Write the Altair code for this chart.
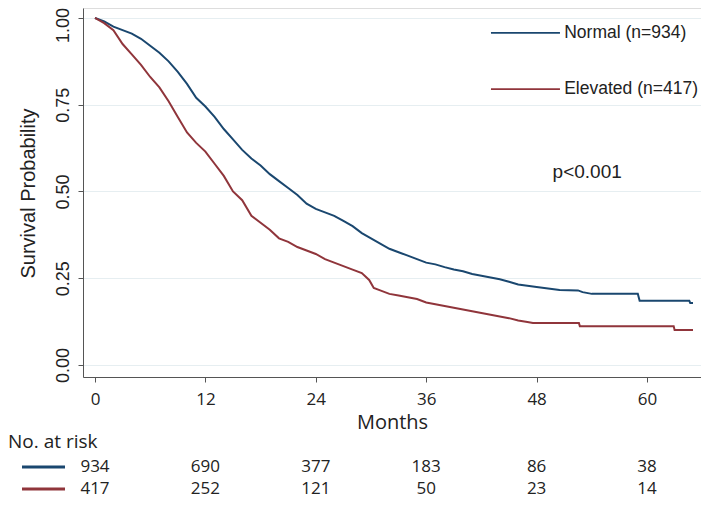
import altair as alt
import pandas as pd

# Kaplan-Meier estimates (months, survival probability)
normal_t = [0, 1, 2, 3, 4, 5, 6, 7, 8, 9, 10, 11, 12, 13, 14, 15, 16, 17, 18, 19, 20,
            21, 22, 23, 24, 25, 26, 27, 28, 29, 30, 31, 32, 33, 34, 35, 36, 37, 38, 39,
            40, 41, 42, 43, 44, 45, 46, 48, 50.5, 52.5, 53, 54, 59.0, 59.2, 64.6, 64.7, 65]
normal_s = [1.0, 0.99, 0.975, 0.965, 0.955, 0.94, 0.92, 0.9, 0.875, 0.845, 0.81, 0.77,
            0.745, 0.715, 0.68, 0.65, 0.62, 0.595, 0.575, 0.55, 0.53, 0.51, 0.49, 0.465,
            0.45, 0.44, 0.43, 0.415, 0.40, 0.38, 0.365, 0.35, 0.335, 0.325, 0.315, 0.305,
            0.295, 0.29, 0.282, 0.275, 0.27, 0.262, 0.257, 0.252, 0.247, 0.24, 0.232,
            0.225, 0.216, 0.215, 0.21, 0.205, 0.205, 0.185, 0.185, 0.179, 0.179]

elevated_t = [0, 1, 2, 3, 4, 5, 6, 7, 8, 9, 10, 11, 12, 13, 14, 15, 16, 17, 18, 19, 20,
              21, 22, 23, 24, 25, 26, 27, 28, 29, 29.8, 30.3, 31, 32, 33, 34, 35, 36, 37,
              38, 39, 40, 41, 42, 43, 44, 45, 46, 47, 47.6, 52.6, 52.7, 62.9, 63, 65]
elevated_s = [1.0, 0.985, 0.965, 0.925, 0.895, 0.865, 0.83, 0.8, 0.76, 0.715, 0.67, 0.64,
              0.615, 0.58, 0.545, 0.5, 0.475, 0.43, 0.41, 0.39, 0.365, 0.355, 0.34, 0.33,
              0.32, 0.305, 0.295, 0.285, 0.275, 0.265, 0.245, 0.222, 0.215, 0.205, 0.2,
              0.195, 0.19, 0.18, 0.175, 0.17, 0.165, 0.16, 0.155, 0.15, 0.145, 0.14, 0.135,
              0.128, 0.124, 0.121, 0.121, 0.112, 0.112, 0.101, 0.101]

groups = ["Normal", "Elevated"]
group_labels = ["Normal (n=934)", "Elevated (n=417)"]
colors = ["#1a476f", "#90353b"]

risk_times = [0, 12, 24, 36, 48, 60]
risk_normal = [934, 690, 377, 183, 86, 38]
risk_elevated = [417, 252, 121, 50, 23, 14]

x_ticks = [0, 12, 24, 36, 48, 60]
y_ticks = [0, 0.25, 0.5, 0.75, 1.0]

curves = pd.concat([
    pd.DataFrame({"t": normal_t, "s": normal_s, "g": "Normal",
                  "i": range(len(normal_t))}),
    pd.DataFrame({"t": elevated_t, "s": elevated_s, "g": "Elevated",
                  "i": range(len(elevated_t))}),
])

xs = alt.Scale(domain=[-1.304, 65.87], nice=False, zero=False)
ys = alt.Scale(domain=[-0.0346, 1.0288], nice=False, zero=False)
cs = alt.Scale(domain=groups, range=colors)

base_x = alt.X("t:Q", scale=xs, axis=alt.Axis(
    values=x_ticks, title="Months", grid=False,
    domainColor="#555555", tickColor="#555555", tickSize=5,
    labelFont="Open Sans", labelFontSize=17, labelColor="#222222", labelPadding=9,
    titleFont="Open Sans", titleFontSize=20, titleFontWeight="normal", titleColor="#222222",
    titleBaseline="alphabetic", titleY=51))
base_y = alt.Y("s:Q", scale=ys, axis=alt.Axis(
    values=y_ticks, format=".2f", title="Survival Probability",
    grid=True, gridColor="#e6eef1", gridWidth=1,
    domainColor="#555555", tickColor="#555555", tickSize=5,
    labelFont="Liberation Sans", labelFontSize=18, labelColor="#222222",
    labelAngle=270, labelAlign="center", labelBaseline="bottom", labelPadding=6,
    labelOffset={"condition": {"test": "datum.value == 1", "value": 7}, "value": 0},
    titleFont="Liberation Sans", titleFontSize=20, titleFontWeight="normal",
    titleColor="#222222", titleAngle=270, titleX=-55, titleY=185,
    titleAlign="center", titleBaseline="middle"))

lines = alt.Chart(curves).mark_line(strokeWidth=2).encode(
    x=base_x, y=base_y,
    color=alt.Color("g:N", scale=cs, legend=None),
    detail="g:N", order="i:Q")

legend_df = pd.DataFrame({
    "g": groups, "label": group_labels,
    "x1": [43.04, 43.04], "x2": [50.54, 50.54], "xt": [51.0, 51.0],
    "y": [0.957, 0.795]})
leg_rules = alt.Chart(legend_df).mark_rule(strokeWidth=1.6).encode(
    x=alt.X("x1:Q", scale=xs), x2="x2:Q", y=alt.Y("y:Q", scale=ys),
    color=alt.Color("g:N", scale=cs, legend=None))
leg_text = alt.Chart(legend_df).mark_text(
    align="left", baseline="middle", font="Liberation Sans", fontSize=17.5,
    color="#222222").encode(
    x=alt.X("xt:Q", scale=xs), y=alt.Y("y:Q", scale=ys), text="label:N")

p_df = pd.DataFrame({"x": [53.5], "y": [0.556], "txt": ["p<0.001"]})
p_text = alt.Chart(p_df).mark_text(
    align="center", baseline="middle", font="Liberation Sans", fontSize=19,
    color="#222222").encode(
    x=alt.X("x:Q", scale=xs), y=alt.Y("y:Q", scale=ys), text="txt:N")

risk_df = pd.concat([
    pd.DataFrame({"t": risk_times, "n": risk_normal, "row": 459}),
    pd.DataFrame({"t": risk_times, "n": risk_elevated, "row": 481}),
])
risk_text = alt.Chart(risk_df).mark_text(
    align="center", baseline="middle", font="Open Sans", fontSize=17,
    color="#222222").encode(
    x=alt.X("t:Q", scale=xs), y=alt.Y("row:Q", scale=None), text="n:Q")

risk_head = alt.Chart(pd.DataFrame({"h": ["No. at risk"]})).mark_text(
    align="left", baseline="middle", font="Open Sans", fontSize=19,
    color="#222222").encode(x=alt.value(-75), y=alt.value(434), text="h:N")

risk_lines_df = pd.DataFrame({"g": groups, "row": [459, 481]})
risk_lines = alt.Chart(risk_lines_df).mark_rule(strokeWidth=3).encode(
    x=alt.value(-61), x2=alt.value(-18), y=alt.Y("row:Q", scale=None),
    color=alt.Color("g:N", scale=cs, legend=None))

chart = alt.layer(lines, leg_rules, leg_text, p_text, risk_text, risk_head, risk_lines).properties(
    width=618, height=369,
    autosize=alt.AutoSizeParams(type="none"),
    padding={"left": 75, "top": 0, "right": 0, "bottom": 122},
).configure_view(stroke=None).configure(background="white")

chart.save("out.html", embed_options={"renderer": "svg", "actions": False})
